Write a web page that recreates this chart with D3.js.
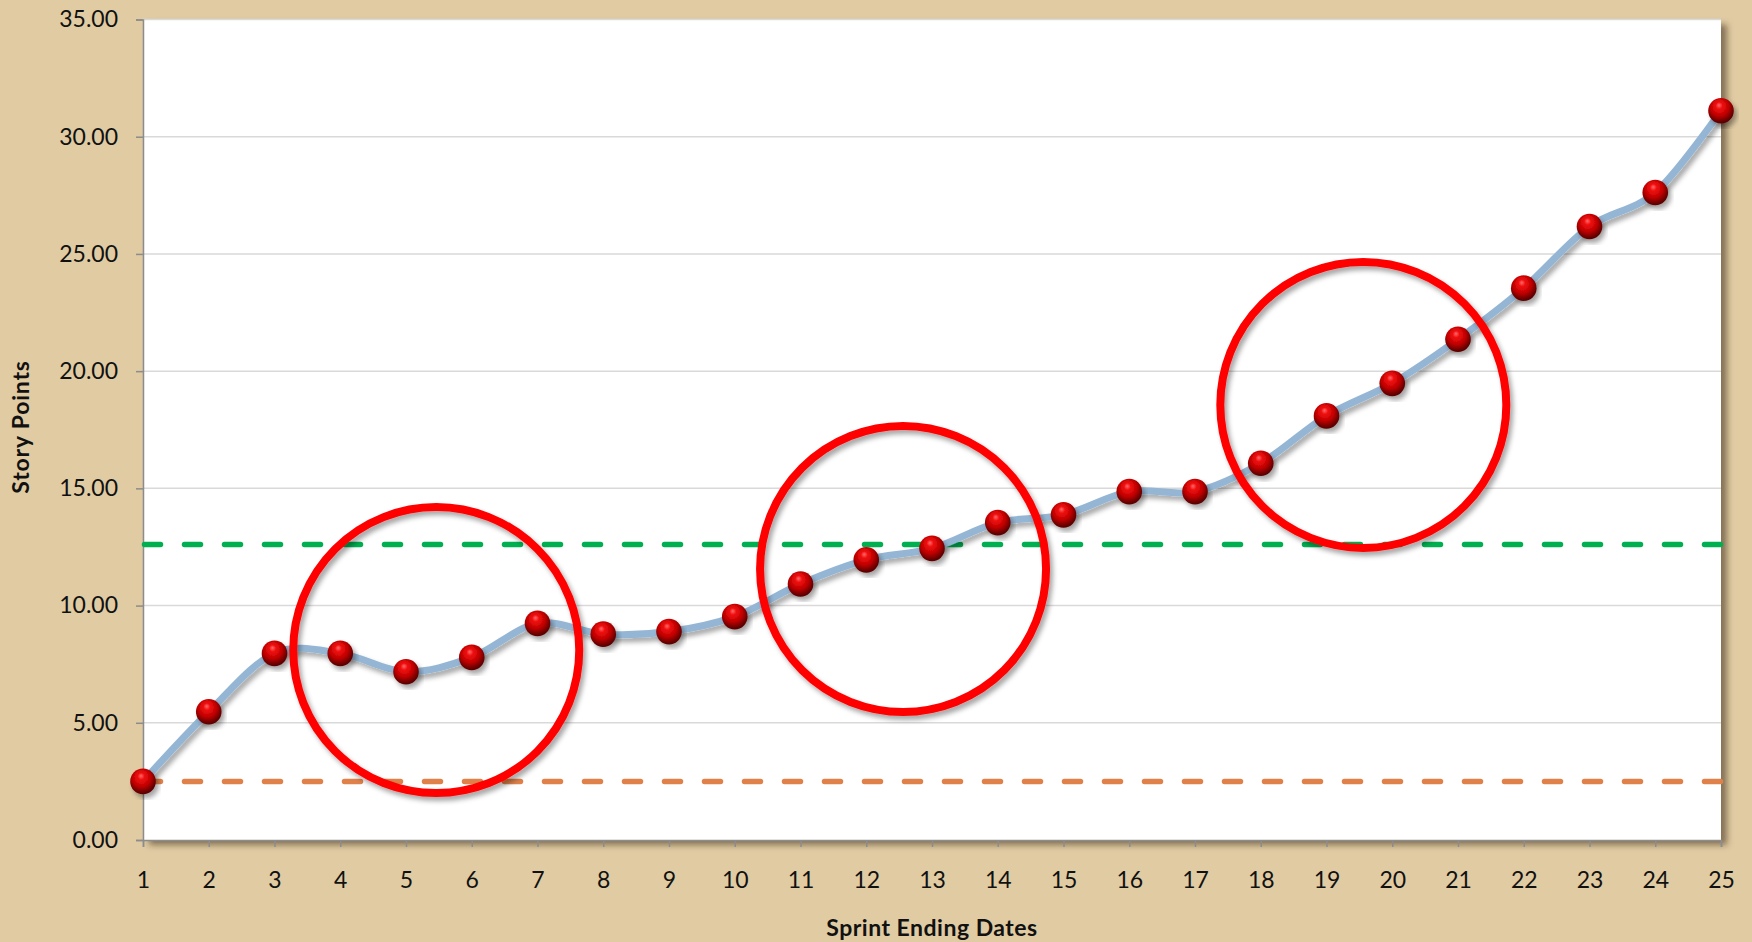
<!DOCTYPE html>
<html>
<head>
<meta charset="utf-8">
<script src="https://cdn.jsdelivr.net/npm/d3@7"></script>
<style>
  html, body { margin: 0; padding: 0; background: #E0CBA3; }
  svg { display: block; }
  .tick text { font-family: Lato, "Noto Sans", sans-serif; fill: #111; }
</style>
</head>
<body>
<svg id="chart" width="1752" height="942"></svg>
<script>
// Sprint velocity data
const sprints = [1, 2, 3, 4, 5, 6, 7, 8, 9, 10, 11, 12, 13, 14, 15, 16, 17, 18, 19, 20, 21, 22, 23, 24, 25];
const storyPoints = [2.5, 5.47, 7.96, 7.96, 7.18, 7.79, 9.24, 8.78, 8.89, 9.53, 10.92, 11.95, 12.44,
                     13.54, 13.87, 14.86, 14.86, 16.07, 18.09, 19.48, 21.36, 23.54, 26.17, 27.62, 31.11];
const yTickValues = [0, 5, 10, 15, 20, 25, 30, 35];
const upperReference = 12.6;   // green dashed line
const lowerReference = 2.5;    // orange dashed line
// Highlighted stretches: centre in (sprint, points)
const highlightCentres = [[5.46, 8.1], [12.56, 11.56], [19.56, 18.56]];

const W = 1752, H = 942;
const margin = { top: 19.5, right: 31, bottom: 102, left: 143 };
const svg = d3.select("#chart");

const x = d3.scaleLinear().domain([1, 25]).range([margin.left, W - margin.right]);
const y = d3.scaleLinear().domain([0, 35]).range([H - margin.bottom, margin.top]);

const defs = svg.append("defs");

// Plot-area shadow
const fPlot = defs.append("filter").attr("id", "plotShadow")
  .attr("x", "-5%").attr("y", "-5%").attr("width", "110%").attr("height", "110%");
fPlot.append("feDropShadow").attr("dx", 6).attr("dy", 5).attr("stdDeviation", 3)
  .attr("flood-color", "#3a2a10").attr("flood-opacity", 0.55);

// Soft shadow used by line, markers and circles
const fSoft = defs.append("filter").attr("id", "softShadow")
  .attr("x", "-20%").attr("y", "-20%").attr("width", "140%").attr("height", "140%");
fSoft.append("feDropShadow").attr("dx", 3).attr("dy", 4).attr("stdDeviation", 2.5)
  .attr("flood-color", "#000").attr("flood-opacity", 0.35);

// Sphere gradient for markers
const grad = defs.append("radialGradient").attr("id", "sphere")
  .attr("cx", "45%").attr("cy", "38%").attr("r", "60%").attr("fx", "42%").attr("fy", "28%");
grad.append("stop").attr("offset", "0%").attr("stop-color", "#ff6a6a");
grad.append("stop").attr("offset", "22%").attr("stop-color", "#f01010");
grad.append("stop").attr("offset", "60%").attr("stop-color", "#c00000");
grad.append("stop").attr("offset", "90%").attr("stop-color", "#6e0000");
grad.append("stop").attr("offset", "100%").attr("stop-color", "#5a0000");

// Plot area
svg.append("rect")
  .attr("x", margin.left).attr("y", margin.top)
  .attr("width", W - margin.left - margin.right)
  .attr("height", H - margin.top - margin.bottom)
  .attr("fill", "#fff")
  .attr("filter", "url(#plotShadow)");

// Horizontal gridlines
svg.append("g").selectAll("line")
  .data(yTickValues.filter(d => d > 0))
  .join("line")
  .attr("x1", margin.left).attr("x2", W - margin.right)
  .attr("y1", d => y(d)).attr("y2", d => y(d))
  .attr("stroke", "#d9d9d9").attr("stroke-width", 1.5);

// Axes
const yAxis = svg.append("g")
  .attr("transform", `translate(${margin.left},0)`)
  .call(d3.axisLeft(y).tickValues(yTickValues).tickFormat(d3.format(".2f")).tickSize(7).tickPadding(18));
yAxis.selectAll("text").attr("font-size", 23);

const xAxis = svg.append("g")
  .attr("transform", `translate(0,${y(0)})`)
  .call(d3.axisBottom(x).tickValues(sprints).tickFormat(d3.format("d")).tickSize(7).tickPadding(25));
xAxis.selectAll("text").attr("font-size", 23);

[yAxis, xAxis].forEach(a => {
  a.select(".domain").attr("stroke", "#8c8c8c").attr("stroke-width", 1.5);
  a.selectAll(".tick line").attr("stroke", "#8c8c8c").attr("stroke-width", 1.5);
});

// Reference lines
[[upperReference, "#00b050"], [lowerReference, "#e0814a"]].forEach(([v, c]) => {
  svg.append("line")
    .attr("x1", x(1)).attr("x2", x(25))
    .attr("y1", y(v)).attr("y2", y(v))
    .attr("stroke", c).attr("stroke-width", 5.5)
    .attr("stroke-dasharray", "16 24")
    .attr("stroke-linecap", "round")
    .attr("transform", "translate(1.5,0)");
});

// Smoothed velocity line
const line = d3.line()
  .x((d, i) => x(sprints[i]))
  .y(d => y(d))
  .curve(d3.curveCatmullRom.alpha(0));
svg.append("path")
  .datum(storyPoints)
  .attr("d", line)
  .attr("fill", "none")
  .attr("stroke", "#94b6d4")
  .attr("stroke-width", 7)
  .attr("stroke-linejoin", "round")
  .attr("filter", "url(#softShadow)");

// Markers
svg.append("g").selectAll("circle")
  .data(storyPoints)
  .join("circle")
  .attr("cx", (d, i) => x(sprints[i]))
  .attr("cy", d => y(d))
  .attr("r", 12.8)
  .attr("fill", "url(#sphere)")
  .attr("filter", "url(#softShadow)");

// Highlight circles
svg.append("g").selectAll("circle")
  .data(highlightCentres)
  .join("circle")
  .attr("cx", d => x(d[0]))
  .attr("cy", d => y(d[1]))
  .attr("r", 143)
  .attr("fill", "none")
  .attr("stroke", "#ff0000")
  .attr("stroke-width", 8)
  .attr("filter", "url(#softShadow)");

// Axis titles
svg.append("text")
  .attr("x", (margin.left + W - margin.right) / 2)
  .attr("y", 936)
  .attr("text-anchor", "middle")
  .attr("font-family", "Lato, 'Noto Sans', sans-serif")
  .attr("font-weight", "bold")
  .attr("font-size", 23)
  .attr("letter-spacing", 0.5)
  .attr("fill", "#111")
  .text("Sprint Ending Dates");

svg.append("text")
  .attr("transform", `translate(28.5,427) rotate(-90)`)
  .attr("text-anchor", "middle")
  .attr("font-family", "Lato, 'Noto Sans', sans-serif")
  .attr("font-weight", "bold")
  .attr("font-size", 23)
  .attr("letter-spacing", 0.8)
  .attr("fill", "#111")
  .text("Story Points");
</script>
</body>
</html>
